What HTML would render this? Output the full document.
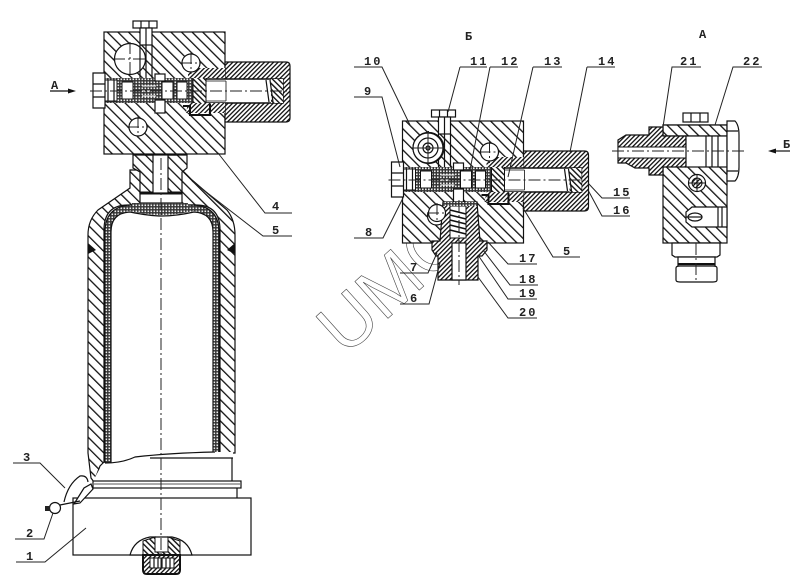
<!DOCTYPE html>
<html><head><meta charset="utf-8"><style>
html,body{margin:0;padding:0;background:#fff}
svg{display:block;filter:blur(.35px)}
text{font-family:"Liberation Mono",monospace;font-size:12px;font-weight:bold;fill:#222;letter-spacing:2px}
.o{fill:none;stroke:#111;stroke-width:1.2}
.w{fill:#fff;stroke:#111;stroke-width:1.2}
.l{fill:none;stroke:#222;stroke-width:1}
.c{fill:none;stroke:#222;stroke-width:1;stroke-dasharray:12 3 2 3}
</style></head><body>
<svg width="800" height="584" viewBox="0 0 800 584" xmlns="http://www.w3.org/2000/svg">
<defs>
<pattern id="h" width="7.5" height="7.5" patternUnits="userSpaceOnUse" patternTransform="rotate(-45)"><rect width="7.5" height="7.5" fill="#fff"/><rect width="1.3" height="7.5" fill="#111"/></pattern>
<pattern id="f" width="3.2" height="3.2" patternUnits="userSpaceOnUse" patternTransform="rotate(45)"><rect width="3.2" height="3.2" fill="#fff"/><rect width="1.3" height="3.2" fill="#111"/></pattern>
<pattern id="g" width="4" height="4" patternUnits="userSpaceOnUse" patternTransform="rotate(-45)"><rect width="4" height="4" fill="#fff"/><rect width="1.4" height="4" fill="#111"/></pattern>
<pattern id="d" width="3" height="3" patternUnits="userSpaceOnUse"><rect width="3" height="3" fill="#333"/><rect x="0.5" y="0.5" width="1.6" height="1.6" fill="#eee"/></pattern>
<g id="valve">
<rect x="104" y="32" width="121" height="122" class="o" style="fill:url(#h)"/>
<path d="M225 62H286Q290 62 290 66V118Q290 122 286 122H225Z" style="fill:url(#f)" class="o"/>
<rect x="105" y="78" width="100" height="25" fill="url(#d)"/>
<rect x="205" y="79" width="78" height="24" fill="#fff"/>
<path d="M205 79H283V103H205" fill="none" stroke="#111" stroke-width="1.4"/>
<rect x="271" y="79" width="12" height="24" style="fill:url(#g)"/>
<path d="M266 80 l3 22 M270 80 l3 22" class="o"/>
<path d="M205 81H226M205 101H226M226 81V101" stroke="#111" fill="none" stroke-width=".8"/>
<rect x="193" y="75" width="13" height="32" style="fill:url(#g)" stroke="#111"/>
<path d="M188 103H225V113H186Z M188 68H225V78H188Z" style="fill:url(#f)"/>
<path d="M183 106h7v9h20v-11" fill="none" stroke="#111" stroke-width="2"/>
<rect x="105" y="80" width="12" height="21" fill="#fff" stroke="#111"/>
<rect x="122" y="82" width="11" height="17" fill="#fff" stroke="#111"/>
<rect x="162" y="82" width="11" height="17" fill="#fff" stroke="#111"/>
<rect x="177" y="82" width="10" height="17" fill="#fff" stroke="#111"/>
<path d="M142 86h14M142 91h16M142 96h14" stroke="#fff" stroke-width="1"/>
<path d="M93 73H105V108H93Z" class="w"/>
<path d="M93 84H105M93 97H105M108 80V101M114 80V101" class="o"/>
<circle cx="130" cy="59" r="15.5" class="w"/>
<path d="M113 59H147M130 42V76" class="c"/>
<circle cx="191" cy="63" r="9" class="w"/>
<path d="M180 63H202M191 52V74" class="c"/>
<circle cx="138" cy="127" r="9" class="w"/>
<path d="M127 127H149M138 116V138" class="c"/>
<rect x="133" y="21" width="24" height="7" class="w"/>
<path d="M141 21v7M149 21v7" class="o"/>
<rect x="140" y="28" width="12" height="17" fill="#fff" stroke="#111" stroke-width="1.2"/>
<path d="M146 28V78M140 45V78M152 45V78" class="o"/>
<rect x="155" y="74" width="10" height="7" class="w"/>
<rect x="155" y="100" width="10" height="13" class="w"/>
<path d="M90 91H290" class="c"/>
</g>
</defs>
<rect width="800" height="584" fill="#fff"/>

<!-- watermark -->
<text x="345" y="357" transform="rotate(-42 345 357)" style="font-family:'Liberation Sans',sans-serif;font-weight:normal;font-size:72px;fill:none;stroke:#444;stroke-width:.6;letter-spacing:0">UMC</text>

<!-- bottle -->
<path d="M130 170V188L98 210Q88 220 88 235V453L91 478L94 482L100 466L104 462V230Q104 205 128 205H196Q220 205 220 230V453H235V235Q235 220 227 210L192 180L182 170Z" style="fill:url(#h)" class="o"/>
<path d="M133 155H187V168L182 172V193H140V172L133 168Z" style="fill:url(#h)" class="o"/>
<path d="M88 243L96 250L88 254Z M235 243L227 250L235 254Z" fill="#111"/>
<path d="M108 463V232Q108 210 130 208Q150 212 162 212Q176 212 194 208Q216 210 216 232V453" fill="none" style="stroke:url(#d)" stroke-width="6"/>
<path d="M111 463V232Q111 213 130 212Q150 216 162 216Q176 216 194 212Q213 213 213 232V453" class="o"/>
<path d="M105 463V232Q105 207 130 205H194Q219 207 219 232V453" class="o"/>
<rect x="140" y="193" width="42" height="10" class="w"/>
<path d="M140 193h42" stroke="#111" stroke-width="3"/>
<rect x="132" y="203" width="56" height="6" fill="url(#d)"/>
<path d="M145 115H177V155H145Z" style="fill:url(#f)" class="o"/>
<rect x="145" y="115" width="32" height="4" fill="url(#d)"/>
<rect x="155" y="125" width="12" height="26" class="w"/>
<circle cx="160" cy="123" r="5" class="w"/>
<rect x="153" y="155" width="15" height="38" class="w"/>

<!-- bottom -->
<path d="M103 465Q125 462 135 457Q170 453 215 452H233V481H93L99 470Z" fill="#fff"/>
<path d="M105 463Q122 463 135 457Q170 453 215 452M150 458H233M232 458V482" class="o"/>
<rect x="93" y="481" width="148" height="7" class="w" stroke-width="1.6"/>
<path d="M94 484H240" stroke="#555" stroke-width="1"/>
<path d="M237 488V498" class="o"/>
<rect x="73" y="498" width="178" height="57" class="w"/>
<path d="M130 555Q134 540 150 537H172Q188 540 192 555Z" class="w"/>
<path d="M143 555V541L155 537V552H168V537L180 541V555Z" style="fill:url(#g)" stroke="#111"/>
<path d="M143 555H180V570Q180 574 176 574H147Q143 574 143 570Z" style="fill:url(#f)" stroke="#111" stroke-width="2"/>
<rect x="150" y="558" width="24" height="10" fill="#fff" stroke="#111"/>
<path d="M154 558v10M158 558v10M162 558v10M166 558v10M170 558v10" class="o"/>

<!-- seal -->
<path d="M64 502Q68 484 80 476Q87 475 88 482" class="o" stroke-width="1.4"/>
<path d="M74 504L84 488L91 484L93 489L80 503Z" class="w" stroke-width="1.4"/>
<path d="M60 505L80 501" class="o" stroke-width="1.4"/>
<circle cx="55" cy="508" r="5.5" class="w"/>
<rect x="45" y="506" width="5" height="5" fill="#222"/>

<use href="#valve"/>
<use href="#valve" transform="translate(298.5,89)"/>

<!-- left centreline and leaders -->
<path d="M161 158V570" class="c"/>
<path d="M50 91H70" stroke="#111" stroke-width="1.2"/><path d="M76 91L68 88.5V93.5Z" fill="#111"/>
<path d="M218 153L265 213H292M192 181L263 236H292" class="l"/>
<path d="M13 463H40L65 488M15 539H44L53 513M16 562H45L86 528" class="l"/>

<!-- middle view lower part -->
<path d="M443 202H477L480 241H487V250L482 256H478V280H438V256H436L432 250V241H440Z" style="fill:url(#f)" class="o"/>
<rect x="452" y="243" width="14" height="37" class="w"/>
<path d="M450 206h16v32h-16z" fill="#fff" stroke="#111"/>
<path d="M450 210l16 4M450 215l16 4M450 220l16 4M450 225l16 4M450 230l16 4" stroke="#111" stroke-width="1.6"/>
<rect x="443" y="202" width="34" height="4" fill="url(#d)"/>
<circle cx="437" cy="213" r="8.5" class="w"/>
<path d="M427 213H447M437 203V223" class="c"/>
<path d="M459 200V285" class="c"/>
<circle cx="428" cy="148" r="15" class="w"/>
<circle cx="428" cy="148" r="10" class="o"/><circle cx="428" cy="148" r="5" class="o"/><circle cx="428" cy="148" r="2" class="o"/>
<path d="M411 148H445M428 131V165" class="l"/>
<!-- leaders -->
<path d="M354 67H382L410 125M460 67H487M460 67L448 112M490 67H518M490 67L470 170M533 67H562M533 67L508 177M587 67H615M587 67L570 152" class="l"/>
<path d="M354 97H382L400 167M354 238H383L403 198M630 198H602L588 183M630 216H602L588 190M580 257H553L523 208M537 264H508L488 242M538 285H510L483 250M537 299H508L478 255M537 318H508L478 277M400 273H428L437 253M400 304H429L440 263" class="l"/>

<!-- right view -->
<rect x="663" y="125" width="64" height="118" style="fill:url(#h)" class="o"/>
<rect x="664" y="136" width="63" height="31" fill="#fff"/>
<rect x="683" y="113" width="25" height="9" class="w"/>
<path d="M691 113v9M700 113v9" class="o"/>
<path d="M663 125H727V136H663Z" style="fill:url(#h)" class="o"/>
<path d="M649 127H663V136H686V167H663V175H649V168H635L626 163H618V140L626 135H649Z" style="fill:url(#f)" class="o"/>
<rect x="618" y="147" width="68" height="11" fill="#fff" stroke="#111" stroke-width="1"/>
<rect x="686" y="136" width="41" height="31" class="w"/>
<path d="M706 136V167M718 136V167M712 136V167" class="o"/>
<path d="M727 121H735Q739 125 739 135V167Q739 177 735 181H727Z" class="w"/>
<path d="M727 131H738M727 171H738" class="o"/>
<path d="M612 151H745" class="c"/>
<circle cx="697" cy="183" r="8.5" class="w"/><circle cx="697" cy="183" r="5" style="fill:url(#f)" stroke="#111"/>
<path d="M697 175v16M689 183h16" stroke="#111"/>
<path d="M727 207H692L686 212V222L692 227H727Z" class="w"/>
<ellipse cx="695" cy="217" rx="7" ry="4" class="o"/><path d="M686 217h16" class="o"/>
<path d="M718 207V227M722 207V227" class="o"/>
<path d="M672 243H720V255L717 257H675L672 255Z" class="w"/>
<path d="M678 257H715V266H678Z" class="w"/>
<path d="M676 268Q676 266 680 266H713Q717 266 717 268V280Q717 282 713 282H680Q676 282 676 280Z" class="w" stroke-width="1.5"/>
<path d="M678 264H715" stroke="#111" stroke-width="2"/>
<path d="M696 243V282" class="c"/>
<path d="M701 67H672L663 127M762 67H733L715 125" class="l"/>
<path d="M775 151H790" stroke="#111" stroke-width="1.2"/><path d="M768 151L776 148.5V153.5Z" fill="#111"/>

<!-- labels -->
<text x="51" y="89">A</text>
<text x="465" y="40">Б</text>
<text x="699" y="38">A</text>
<text x="783" y="148">Б</text>
<text x="272" y="210">4</text>
<text x="272" y="234">5</text>
<text x="23" y="461">3</text>
<text x="26" y="537">2</text>
<text x="26" y="560">1</text>
<text x="364" y="65">10</text>
<text x="470" y="65">11</text>
<text x="501" y="65">12</text>
<text x="544" y="65">13</text>
<text x="598" y="65">14</text>
<text x="364" y="95">9</text>
<text x="365" y="236">8</text>
<text x="613" y="196">15</text>
<text x="613" y="214">16</text>
<text x="563" y="255">5</text>
<text x="519" y="262">17</text>
<text x="519" y="283">18</text>
<text x="519" y="297">19</text>
<text x="519" y="316">20</text>
<text x="410" y="271">7</text>
<text x="410" y="302">6</text>
<text x="680" y="65">21</text>
<text x="743" y="65">22</text>
</svg>
</body></html>
